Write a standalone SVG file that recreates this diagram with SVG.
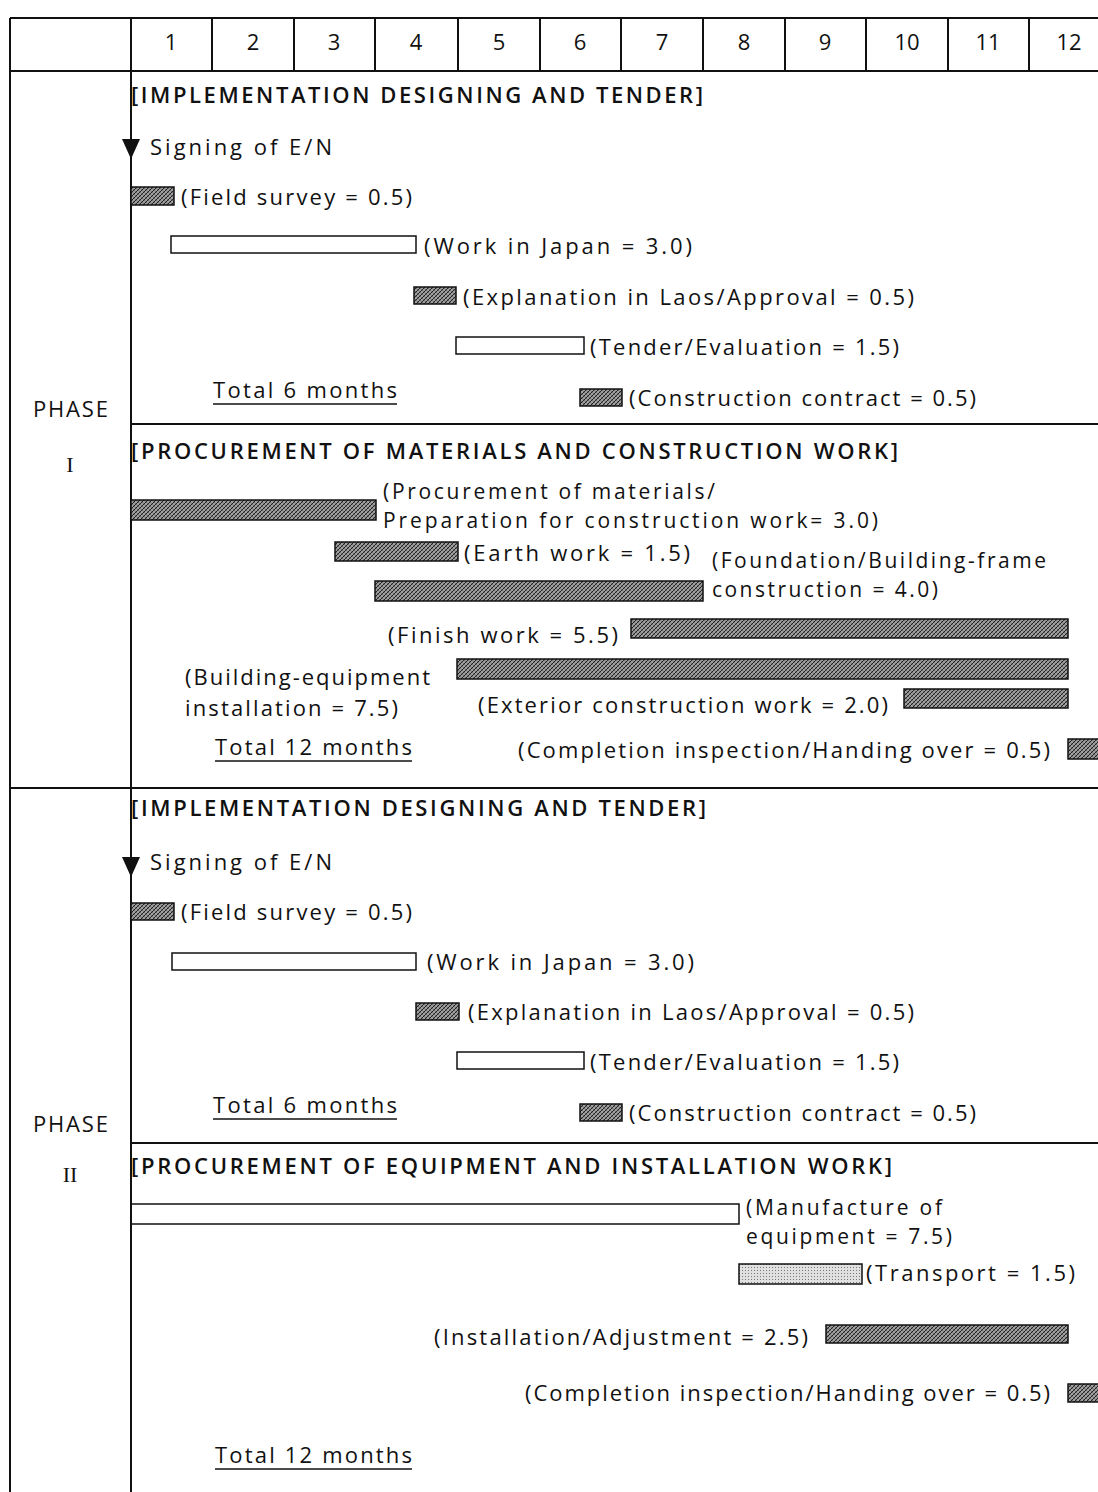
<svg xmlns="http://www.w3.org/2000/svg" width="1098" height="1492" viewBox="0 0 1098 1492">
<defs>
<pattern id="hatch" patternUnits="userSpaceOnUse" width="4" height="4">
<rect width="4" height="4" fill="#a0a0a0"/>
<path d="M-1,1 L1,-1 M0,4 L4,0 M3,5 L5,3" stroke="#222" stroke-width="1"/>
<path d="M0,0 L4,4" stroke="#555" stroke-width="0.6"/>
</pattern>
<pattern id="dots" patternUnits="userSpaceOnUse" width="3" height="3">
<rect width="3" height="3" fill="#e0e0e0"/>
<rect x="1" y="1" width="1" height="1" fill="#777"/>
</pattern>
<style>
text{font-family:"Open Sans","Noto Sans","DejaVu Sans",sans-serif;font-size:22px;fill:#111}
.hd{font-weight:600}
.two{font-size:21px}
.num{text-anchor:middle}
.rom{font-family:"Liberation Serif","DejaVu Serif",serif;text-anchor:middle}
.grid{stroke:#111;stroke-width:2;fill:none}
.thin{stroke:#111;stroke-width:1.5;fill:none}
.bar{fill:url(#hatch);stroke:#111;stroke-width:1.5}
.lbar{fill:url(#dots);stroke:#111;stroke-width:1.5}
.wbar{fill:#fff;stroke:#111;stroke-width:1.5}
.ul{stroke:#111;stroke-width:1.5}
.tri{fill:#111}
</style>
</defs>
<rect width="1098" height="1492" fill="#fff"/>

<g id="table-grid">
<line class="grid" x1="10" y1="18" x2="1098" y2="18"/>
<line class="grid" x1="10" y1="71" x2="1098" y2="71"/>
<line class="grid" x1="10" y1="18" x2="10" y2="1492"/>
<line class="grid" x1="131" y1="18" x2="131" y2="1492"/>
<line class="grid" x1="212" y1="18" x2="212" y2="71"/>
<line class="grid" x1="294" y1="18" x2="294" y2="71"/>
<line class="grid" x1="375" y1="18" x2="375" y2="71"/>
<line class="grid" x1="458" y1="18" x2="458" y2="71"/>
<line class="grid" x1="540" y1="18" x2="540" y2="71"/>
<line class="grid" x1="621" y1="18" x2="621" y2="71"/>
<line class="grid" x1="703" y1="18" x2="703" y2="71"/>
<line class="grid" x1="785" y1="18" x2="785" y2="71"/>
<line class="grid" x1="866" y1="18" x2="866" y2="71"/>
<line class="grid" x1="948" y1="18" x2="948" y2="71"/>
<line class="grid" x1="1029" y1="18" x2="1029" y2="71"/>
<line class="grid" x1="131" y1="424" x2="1098" y2="424"/>
<line class="grid" x1="10" y1="788" x2="1098" y2="788" stroke-width="2.5"/>
<line class="grid" x1="131" y1="1143" x2="1098" y2="1143"/>
</g>

<g id="month-header">
<text class="num" x="171" y="50">1</text>
<text class="num" x="253" y="50">2</text>
<text class="num" x="334" y="50">3</text>
<text class="num" x="416" y="50">4</text>
<text class="num" x="499" y="50">5</text>
<text class="num" x="580" y="50">6</text>
<text class="num" x="662" y="50">7</text>
<text class="num" x="744" y="50">8</text>
<text class="num" x="825" y="50">9</text>
<text class="num" x="907" y="50">10</text>
<text class="num" x="988" y="50">11</text>
<text class="num" x="1069" y="50">12</text>
</g>

<g id="phase1-label">
<text x="33" y="417" textLength="75" lengthAdjust="spacing">PHASE</text>
<text class="rom" x="70" y="472">I</text>
</g>
<g id="phase2-label">
<text x="33" y="1132" textLength="75" lengthAdjust="spacing">PHASE</text>
<text class="rom" x="70" y="1182">II</text>
</g>

<!-- PHASE I -->
<g id="p1-design-header"><text class="hd" x="131" y="103" textLength="572" lengthAdjust="spacing">[IMPLEMENTATION DESIGNING AND TENDER]</text></g>
<g id="p1-signing">
<polygon class="tri" points="122,139 140,139 131,159"/>
<text x="150" y="155" textLength="182" lengthAdjust="spacing">Signing of E/N</text>
</g>
<g id="p1-field-survey">
<rect class="bar" x="131" y="187" width="43" height="18"/>
<text x="181" y="205" textLength="231" lengthAdjust="spacing">(Field survey = 0.5)</text>
</g>
<g id="p1-work-japan">
<rect class="wbar" x="171" y="236" width="245" height="17"/>
<text x="424" y="254" textLength="268" lengthAdjust="spacing">(Work in Japan = 3.0)</text>
</g>
<g id="p1-explanation">
<rect class="bar" x="414" y="287" width="42" height="17"/>
<text x="463" y="305" textLength="451" lengthAdjust="spacing">(Explanation in Laos/Approval = 0.5)</text>
</g>
<g id="p1-tender">
<rect class="wbar" x="456" y="337" width="128" height="17"/>
<text x="590" y="355" textLength="309" lengthAdjust="spacing">(Tender/Evaluation = 1.5)</text>
</g>
<g id="p1-total6">
<text x="213" y="398" textLength="184" lengthAdjust="spacing">Total 6 months</text>
<line class="ul" x1="213" y1="404" x2="397" y2="404"/>
</g>
<g id="p1-contract">
<rect class="bar" x="580" y="389" width="42" height="17"/>
<text x="629" y="406" textLength="347" lengthAdjust="spacing">(Construction contract = 0.5)</text>
</g>

<g id="p1-proc-header"><text class="hd" x="131" y="459" textLength="767" lengthAdjust="spacing">[PROCUREMENT OF MATERIALS AND CONSTRUCTION WORK]</text></g>
<g id="p1-procurement">
<rect class="bar" x="131" y="500" width="245" height="20"/>
<text class="two" x="383" y="499"><tspan x="383" y="499" textLength="332" lengthAdjust="spacing">(Procurement of materials/</tspan><tspan x="383" y="528" textLength="495" lengthAdjust="spacing">Preparation for  construction work= 3.0)</tspan></text>
</g>
<g id="p1-earth">
<rect class="bar" x="335" y="542" width="123" height="19"/>
<text x="464" y="561" textLength="226" lengthAdjust="spacing">(Earth work = 1.5)</text>
</g>
<g id="p1-foundation">
<rect class="bar" x="375" y="581" width="328" height="20"/>
<text class="two" x="712" y="568"><tspan x="712" y="568" textLength="334" lengthAdjust="spacing">(Foundation/Building-frame</tspan><tspan x="712" y="597" textLength="226" lengthAdjust="spacing">construction = 4.0)</tspan></text>
</g>
<g id="p1-finish">
<text x="388" y="643" textLength="230" lengthAdjust="spacing">(Finish work = 5.5)</text>
<rect class="bar" x="631" y="619" width="437" height="19"/>
</g>
<g id="p1-building-eq">
<rect class="bar" x="457" y="659" width="611" height="20"/>
<text x="185" y="685"><tspan x="185" y="685" textLength="245" lengthAdjust="spacing">(Building-equipment</tspan><tspan x="185" y="716" textLength="213" lengthAdjust="spacing">installation = 7.5)</tspan></text>
</g>
<g id="p1-exterior">
<text x="478" y="713" textLength="410" lengthAdjust="spacing">(Exterior construction work = 2.0)</text>
<rect class="bar" x="904" y="689" width="164" height="19"/>
</g>
<g id="p1-total12">
<text x="215" y="755" textLength="197" lengthAdjust="spacing">Total 12 months</text>
<line class="ul" x1="215" y1="761" x2="412" y2="761"/>
</g>
<g id="p1-completion">
<text x="518" y="758" textLength="532" lengthAdjust="spacing">(Completion inspection/Handing over = 0.5)</text>
<rect class="bar" x="1068" y="739" width="32" height="20"/>
</g>

<!-- PHASE II -->
<g id="p2-design-header"><text class="hd" x="131" y="816" textLength="575" lengthAdjust="spacing">[IMPLEMENTATION DESIGNING AND TENDER]</text></g>
<g id="p2-signing">
<polygon class="tri" points="122,857 140,857 131,877"/>
<text x="150" y="870" textLength="182" lengthAdjust="spacing">Signing of E/N</text>
</g>
<g id="p2-field-survey">
<rect class="bar" x="131" y="903" width="43" height="17"/>
<text x="181" y="920" textLength="231" lengthAdjust="spacing">(Field survey = 0.5)</text>
</g>
<g id="p2-work-japan">
<rect class="wbar" x="172" y="953" width="244" height="17"/>
<text x="427" y="970" textLength="267" lengthAdjust="spacing">(Work in Japan = 3.0)</text>
</g>
<g id="p2-explanation">
<rect class="bar" x="416" y="1003" width="43" height="17"/>
<text x="468" y="1020" textLength="446" lengthAdjust="spacing">(Explanation in Laos/Approval = 0.5)</text>
</g>
<g id="p2-tender">
<rect class="wbar" x="457" y="1052" width="127" height="17"/>
<text x="590" y="1070" textLength="309" lengthAdjust="spacing">(Tender/Evaluation = 1.5)</text>
</g>
<g id="p2-total6">
<text x="213" y="1113" textLength="184" lengthAdjust="spacing">Total 6 months</text>
<line class="ul" x1="213" y1="1119" x2="397" y2="1119"/>
</g>
<g id="p2-contract">
<rect class="bar" x="580" y="1104" width="42" height="17"/>
<text x="629" y="1121" textLength="347" lengthAdjust="spacing">(Construction contract = 0.5)</text>
</g>

<g id="p2-proc-header"><text class="hd" x="131" y="1174" textLength="761" lengthAdjust="spacing">[PROCUREMENT OF EQUIPMENT AND INSTALLATION WORK]</text></g>
<g id="p2-manufacture">
<path class="thin" d="M131,1204 L739,1204 L739,1224 L131,1224"/>
<text class="two" x="746" y="1215"><tspan x="746" y="1215" textLength="196" lengthAdjust="spacing">(Manufacture of</tspan><tspan x="746" y="1244" textLength="206" lengthAdjust="spacing">equipment = 7.5)</tspan></text>
</g>
<g id="p2-transport">
<rect class="lbar" x="739" y="1264" width="123" height="20"/>
<text x="866" y="1281" textLength="209" lengthAdjust="spacing">(Transport = 1.5)</text>
</g>
<g id="p2-installation">
<text x="434" y="1345" textLength="374" lengthAdjust="spacing">(Installation/Adjustment = 2.5)</text>
<rect class="bar" x="826" y="1325" width="242" height="18"/>
</g>
<g id="p2-completion">
<text x="525" y="1401" textLength="525" lengthAdjust="spacing">(Completion inspection/Handing over = 0.5)</text>
<rect class="bar" x="1068" y="1384" width="32" height="18"/>
</g>
<g id="p2-total12">
<text x="215" y="1463" textLength="197" lengthAdjust="spacing">Total 12 months</text>
<line class="ul" x1="215" y1="1469" x2="412" y2="1469"/>
</g>
<g id="connectors"></g>
</svg>
